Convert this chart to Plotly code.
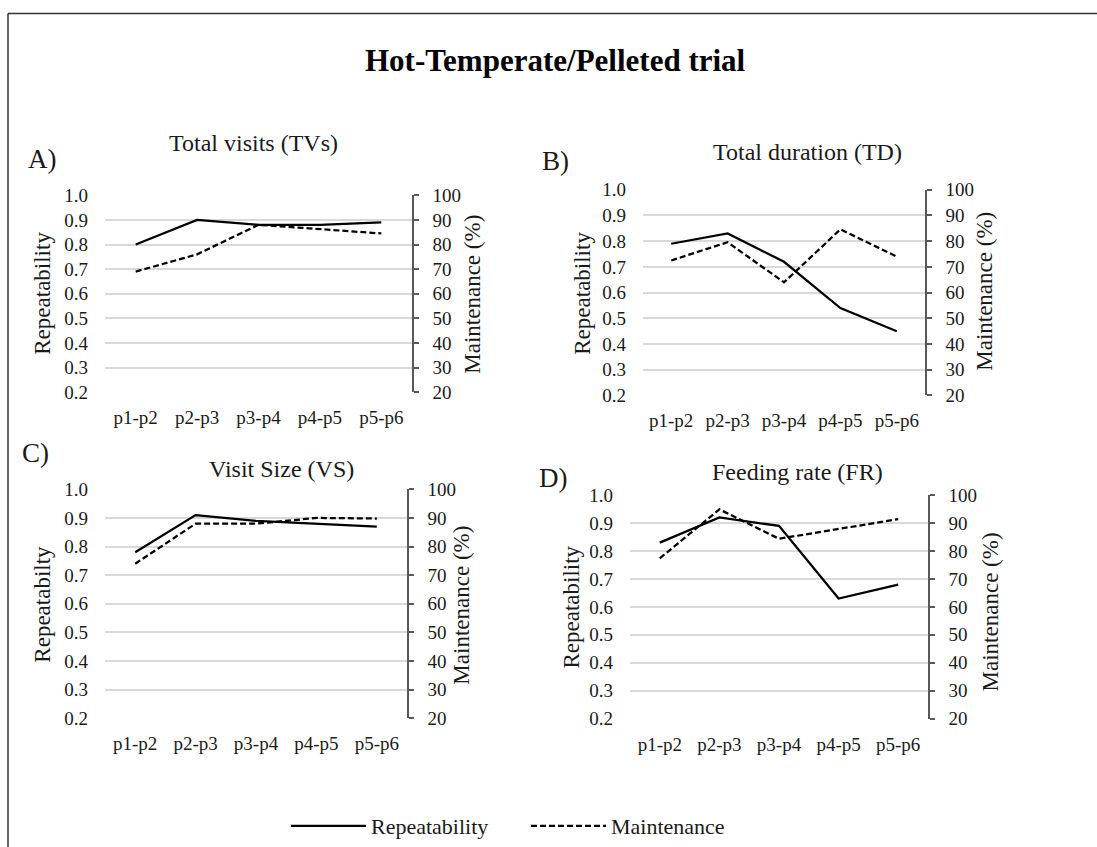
import plotly.graph_objects as go

# Period pairs on the category axis
periods = ["p1-p2", "p2-p3", "p3-p4", "p4-p5", "p5-p6"]

# Repeatability (left axis) per panel
rep_tv = [0.80, 0.90, 0.88, 0.88, 0.89]
rep_td = [0.79, 0.83, 0.72, 0.54, 0.45]
rep_vs = [0.78, 0.91, 0.89, 0.88, 0.87]
rep_fr = [0.83, 0.92, 0.89, 0.63, 0.68]

# Maintenance, % (right axis) per panel
mnt_tv = [69.0, 76.0, 88.0, 86.3, 84.5]
mnt_td = [72.5, 79.6, 64.0, 84.6, 74.0]
mnt_vs = [74.0, 88.0, 88.0, 90.0, 89.8]
mnt_fr = [77.4, 94.9, 84.4, 88.0, 91.4]

panel_titles = ["Total visits (TVs)", "Total duration (TD)", "Visit Size (VS)", "Feeding rate (FR)"]
panel_tags = ["A)", "B)", "C)", "D)"]
left_titles = ["Repeatability", "Repeatability", "Repeatabilty", "Repeatability"]
right_title = "Maintenance (%)"
legend_names = ["Repeatability", "Maintenance"]
main_title = "Hot-Temperate/Pelleted trial"

W, H = 1097, 847
FONT = "Liberation Serif"
INK = "#1a1a1a"

# Plot-area boxes in pixels: (left, right, top, bottom)
boxes = [
    (105, 412, 190.7, 393.3),
    (643, 925, 185.0, 396.7),
    (105, 407, 493.3, 729.0),
    (630, 928, 499.3, 729.3),
]
# Text anchor points in pixels
title_pos = [(254, 137), (807, 146), (281, 472), (797, 475)]
tag_pos = [(42, 153), (556, 155), (35, 456), (553, 482)]
ltitle_pos = [(43, 292), (583, 292), (43, 612), (572, 615)]
rtitle_pos = [(473, 293), (985, 290), (462, 613), (990, 620)]

rep_sets = [rep_tv, rep_td, rep_vs, rep_fr]
mnt_sets = [mnt_tv, mnt_td, mnt_vs, mnt_fr]


def px(x):
    return x / W


def py(y):
    return 1 - y / H


fig = go.Figure()
layout = dict(
    width=W, height=H,
    margin=dict(l=0, r=0, t=0, b=0),
    paper_bgcolor="white", plot_bgcolor="white",
    font=dict(family=FONT, size=19, color=INK),
    showlegend=True,
)
annotations = []

for i in range(4):
    n = i + 1
    xa = "x" if n == 1 else f"x{n}"
    ya_l_id = 2 * i + 1
    ya_r_id = 2 * i + 2
    ya_l = "y" if ya_l_id == 1 else f"y{ya_l_id}"
    ya_r = f"y{ya_r_id}"
    l, r, t, b = boxes[i]

    layout[f"xaxis{'' if n == 1 else n}"] = dict(
        domain=[px(l), px(r)], anchor=ya_l, type="category",
        categoryorder="array", categoryarray=periods,
        range=[-0.5, 4.5], showgrid=False, showline=False, zeroline=False,
        ticks="", ticklabelstandoff=12,
        tickfont=dict(family=FONT, size=19, color=INK),
    )
    layout[f"yaxis{'' if ya_l_id == 1 else ya_l_id}"] = dict(
        domain=[py(b), py(t)], anchor=xa, range=[0.2, 1.0], dtick=0.1,
        tick0=0.2, tickformat=".1f", showgrid=True, gridcolor="#d9d9d9",
        gridwidth=2, showline=False, zeroline=False, ticks="",
        ticklabelstandoff=16,
        tickfont=dict(family=FONT, size=19, color=INK),
    )
    layout[f"yaxis{ya_r_id}"] = dict(
        domain=[py(b), py(t)], anchor=xa, overlaying=ya_l, side="right",
        range=[20, 100], dtick=10, tick0=20, showgrid=False, zeroline=False,
        showline=True, linecolor="#595959", linewidth=1.5,
        ticks="outside", ticklen=5, tickcolor="#595959", tickwidth=1.5,
        ticklabelstandoff=10,
        tickfont=dict(family=FONT, size=19, color=INK),
    )

    fig.add_trace(go.Scatter(
        x=periods, y=rep_sets[i], xaxis=xa, yaxis=ya_l, mode="lines",
        name=legend_names[0], legendgroup="rep", showlegend=(i == 0),
        line=dict(color="black", width=2.25), hoverinfo="skip",
    ))
    fig.add_trace(go.Scatter(
        x=periods, y=mnt_sets[i], xaxis=xa, yaxis=ya_r, mode="lines",
        name=legend_names[1], legendgroup="mnt", showlegend=(i == 0),
        line=dict(color="black", width=2.25, dash="6px,3px"), hoverinfo="skip",
    ))

    annotations.append(dict(
        text=panel_titles[i], x=px(title_pos[i][0]), y=py(title_pos[i][1]),
        xref="paper", yref="paper", showarrow=False,
        xanchor="center", yanchor="middle",
        font=dict(family=FONT, size=24, color=INK),
    ))
    annotations.append(dict(
        text=panel_tags[i], x=px(tag_pos[i][0]), y=py(tag_pos[i][1]),
        xref="paper", yref="paper", showarrow=False,
        xanchor="center", yanchor="middle",
        font=dict(family=FONT, size=27, color=INK),
    ))
    annotations.append(dict(
        text=left_titles[i], x=px(ltitle_pos[i][0]), y=py(ltitle_pos[i][1]),
        xref="paper", yref="paper", showarrow=False, textangle=-90,
        xanchor="center", yanchor="middle",
        font=dict(family=FONT, size=23, color=INK),
    ))
    annotations.append(dict(
        text=right_title, x=px(rtitle_pos[i][0]), y=py(rtitle_pos[i][1]),
        xref="paper", yref="paper", showarrow=False, textangle=-90,
        xanchor="center", yanchor="middle",
        font=dict(family=FONT, size=23, color=INK),
    ))

annotations.append(dict(
    text=f"<b>{main_title}</b>", x=px(556), y=py(52),
    xref="paper", yref="paper", showarrow=False,
    xanchor="center", yanchor="middle",
    font=dict(family=FONT, size=31, color="black"),
))

layout["annotations"] = annotations
layout["legend"] = dict(
    orientation="h", x=px(286), y=py(840), xanchor="left", yanchor="middle",
    itemwidth=75, entrywidth=150, font=dict(family=FONT, size=22, color=INK),
    bgcolor="rgba(0,0,0,0)",
)
# Frame along the top and left of the figure
layout["shapes"] = [
    dict(type="line", xref="paper", yref="paper",
         x0=px(8), x1=1.02, y0=py(3.5), y1=py(3.5),
         line=dict(color="#333333", width=1.5), layer="below"),
    dict(type="line", xref="paper", yref="paper",
         x0=px(8), x1=px(8), y0=-0.05, y1=py(3.5),
         line=dict(color="#333333", width=1.5), layer="below"),
]

fig.update_layout(**layout)
fig.write_html("out.html")
